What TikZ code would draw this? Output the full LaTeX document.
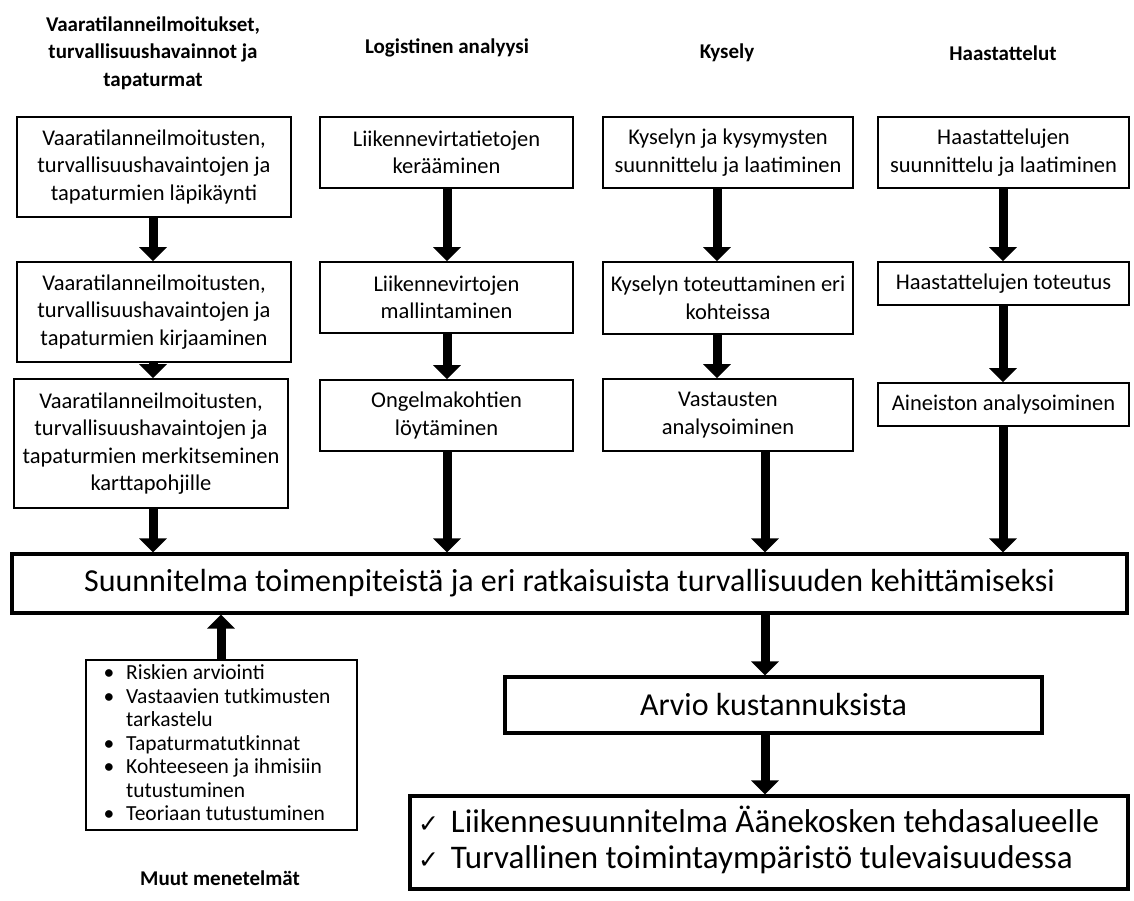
\documentclass[tikz,border=0pt]{standalone}
\usepackage{fontspec}
\setmainfont{Carlito}
\newfontfamily\symfont{DejaVu Sans}
\usetikzlibrary{arrows.meta,calc}
\begin{document}
\begin{tikzpicture}[x=1pt,y=-1pt,
  box/.style={draw,line width=1.8pt,align=center,inner sep=0pt,font=\fontsize{22.5}{27.5}\selectfont},
  bigbox/.style={draw,line width=3.2pt,inner sep=0pt},
  head/.style={align=center,font=\bfseries\fontsize{21}{27.5}\selectfont},
  arr/.style={line width=9pt,-{Triangle[width=27pt,length=14pt]}}
]
\useasboundingbox (0,0) rectangle (1134,901);
% headers
\node[head] (h1) at (153,53) {Vaaratilanneilmoitukset,\\turvallisuushavainnot ja\\tapaturmat};
\node[head] (h2) at (447,48) {Logistinen analyysi};
\node[head] (h3) at (727,53) {Kysely};
\node[head] (h4) at (1003,53) {Haastattelut};
% column 1
\node[box,minimum width=274pt,minimum height=100pt] (a1) at (154,167) {Vaaratilanneilmoitusten,\\turvallisuushavaintojen ja\\tapaturmien läpikäynti};
\node[box,minimum width=274pt,minimum height=100pt] (a2) at (154,312) {Vaaratilanneilmoitusten,\\turvallisuushavaintojen ja\\tapaturmien kirjaaminen};
\node[box,minimum width=274pt,minimum height=129pt] (a3) at (151,443.5) {Vaaratilanneilmoitusten,\\turvallisuushavaintojen ja\\tapaturmien merkitseminen\\karttapohjille};
% column 2
\node[box,minimum width=253pt,minimum height=71pt] (b1) at (446.5,152.5) {Liikennevirtatietojen\\kerääminen};
\node[box,minimum width=253pt,minimum height=71pt] (b2) at (446.5,297.5) {Liikennevirtojen\\mallintaminen};
\node[box,minimum width=253pt,minimum height=71pt] (b3) at (446.5,415.5) {Ongelmakohtien\\löytäminen};
% column 3
\node[box,minimum width=250pt,minimum height=71pt] (c1) at (728,152.5) {Kyselyn ja kysymysten\\suunnittelu ja laatiminen};
\node[box,minimum width=250pt,minimum height=72pt] (c2) at (728,298) {Kyselyn toteuttaminen eri\\kohteissa};
\node[box,minimum width=250pt,minimum height=72pt] (c3) at (728,415) {Vastausten\\analysoiminen};
% column 4
\node[box,minimum width=251pt,minimum height=71pt] (d1) at (1003.5,152.5) {Haastattelujen\\suunnittelu ja laatiminen};
\node[box,minimum width=251pt,minimum height=43pt] (d2) at (1003.5,283.5) {Haastattelujen toteutus};
\node[box,minimum width=251pt,minimum height=43pt] (d3) at (1003.5,404.5) {Aineiston analysoiminen};
% main
\node[bigbox,minimum width=1115pt,minimum height=59pt,font=\fontsize{32}{38}\selectfont] (m) at (569.5,583.5) {Suunnitelma toimenpiteistä ja eri ratkaisuista turvallisuuden kehittämiseksi};
% bullets
\node[draw,line width=1.8pt,minimum width=271pt,minimum height=170pt,inner sep=0pt,font=\fontsize{21.5}{27}\selectfont] (e) at (221.5,745) {\makebox[268pt][l]{%
\begin{tabular}{@{\hspace{16pt}}l@{\hspace{12pt}}l@{}}
•&Riskien arviointi\\[-3.5pt]
•&Vastaavien tutkimusten\\[-3.5pt]
&tarkastelu\\[-3.5pt]
•&Tapaturmatutkinnat\\[-3.5pt]
•&Kohteeseen ja ihmisiin\\[-3.5pt]
&tutustuminen\\[-3.5pt]
•&Teoriaan tutustuminen
\end{tabular}}};
\node[head] (h5) at (220,878) {Muut menetelmät};
% arvio
\node[bigbox,minimum width=537pt,minimum height=56pt,font=\fontsize{32}{38}\selectfont] (k) at (773.5,705) {Arvio kustannuksista};
% final
\node[bigbox,minimum width=718pt,minimum height=93pt,font=\fontsize{33}{40}\selectfont] (f) at (769,842.5) {\makebox[714pt][l]{%
\begin{tabular}{@{\hspace{6pt}}l@{\hspace{12pt}}l@{}}
{\symfont\fontsize{25}{28}\selectfont ✓}&Liikennesuunnitelma Äänekosken tehdasalueelle\\[-4pt]
{\symfont\fontsize{25}{28}\selectfont ✓}&Turvallinen toimintaympäristö tulevaisuudessa
\end{tabular}}};
% arrow x positions
\coordinate (xa) at (153,0);
\coordinate (xb) at (447,0);
\coordinate (xc) at (717,0);
\coordinate (xc2) at (765,0);
\coordinate (xd) at (1003,0);
\coordinate (xe) at (221,0);
% arrows
\draw[arr] (a1.south -| xa) -- (a2.north -| xa);
\draw[arr] (a2.south -| xa) -- (a3.north -| xa);
\draw[arr] (a3.south -| xa) -- (m.north -| xa);
\draw[arr] (b1.south -| xb) -- (b2.north -| xb);
\draw[arr] (b2.south -| xb) -- (b3.north -| xb);
\draw[arr] (b3.south -| xb) -- (m.north -| xb);
\draw[arr] (c1.south -| xc) -- (c2.north -| xc);
\draw[arr] (c2.south -| xc) -- (c3.north -| xc);
\draw[arr] (c3.south -| xc2) -- (m.north -| xc2);
\draw[arr] (d1.south -| xd) -- (d2.north -| xd);
\draw[arr] (d2.south -| xd) -- (d3.north -| xd);
\draw[arr] (d3.south -| xd) -- (m.north -| xd);
\draw[arr] (e.north -| xe) -- (m.south -| xe);
\draw[arr] (m.south -| xc2) -- (k.north -| xc2);
\draw[arr] (k.south -| xc2) -- (f.north -| xc2);
\end{tikzpicture}
\end{document}
